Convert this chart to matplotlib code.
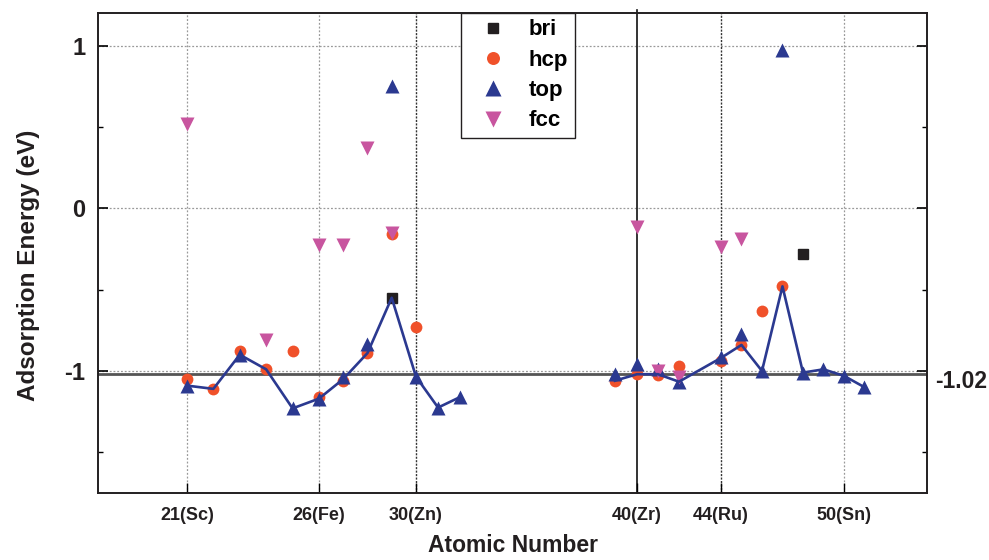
import numpy as np
import matplotlib
matplotlib.use("Agg")
import matplotlib.pyplot as plt
import matplotlib.transforms as mtransforms

plt.rcParams['font.family'] = ['Liberation Sans', 'DejaVu Sans']
plt.rcParams['font.weight'] = 'bold'

nan = np.nan
# Atomic numbers of the elements in the chart
Z = [21, 22, 23, 24, 25, 26, 27, 28, 29, 30, 31, 32,
     39, 40, 41, 42, 43, 44, 45, 46, 47, 48, 49, 50, 51]

bri = [nan, nan, nan, nan, nan, nan, nan, nan, -0.55, nan, nan, nan,
       nan, nan, nan, nan, nan, nan, nan, nan, nan, -0.28, nan, nan, nan]
hcp = [-1.05, -1.11, -0.875, -0.99, -0.875, -1.16, -1.06, -0.89, -0.16, -0.73, nan, nan,
       -1.06, -1.02, -1.025, -0.967, nan, -0.94, -0.84, -0.63, -0.48, nan, nan, nan, nan]
top = [-1.09, nan, -0.90, nan, -1.23, -1.17, -1.04, -0.835, 0.75, -1.035, -1.225, -1.16,
       -1.02, -0.957, -0.99, -1.066, nan, -0.916, -0.77, -1.00, 0.973, -1.01, -0.99, -1.03, -1.10]
fcc = [0.52, nan, nan, -0.81, nan, -0.226, -0.226, 0.37, -0.155, nan, nan, nan,
       nan, -0.113, -1.00, -1.04, nan, -0.236, -0.19, nan, nan, nan, nan, nan, nan]
# most stable site (connected line)
stable = [-1.09, -1.11, -0.90, -0.99, -1.23, -1.17, -1.05, -0.89, -0.55, -1.035, -1.225, -1.16,
          -1.06, -1.02, -1.02, -1.066, nan, -0.92, -0.84, -1.00, -0.48, -1.01, -0.99, -1.03, -1.10]

ref_energy = -1.02
tick_z = [21, 26, 30, 40, 44, 50]
tick_labels = ['21(Sc)', '26(Fe)', '30(Zn)', '40(Zr)', '44(Ru)', '50(Sn)']

# non-uniform horizontal axis of the original: piecewise-linear scale
scale_z = np.array([21, 26, 30, 40, 44, 50], float)
scale_u = np.array([0, 132, 229, 450, 534, 657], float)


def _pw(x, xp, fp):
    x = np.asarray(x, float)
    y = np.interp(x, xp, fp)
    s0 = (fp[1] - fp[0]) / (xp[1] - xp[0])
    s1 = (fp[-1] - fp[-2]) / (xp[-1] - xp[-2])
    y = np.where(x < xp[0], fp[0] + (x - xp[0]) * s0, y)
    y = np.where(x > xp[-1], fp[-1] + (x - xp[-1]) * s1, y)
    return y


def fwd(x):
    return _pw(x, scale_z, scale_u)


def inv(u):
    return _pw(u, scale_u, scale_z)


C_BRI = '#231f20'
C_HCP = '#f0512a'
C_TOP = '#2b3990'
C_FCC = '#c8559f'

fig = plt.figure(figsize=(9.89, 5.6), dpi=100)
ax = fig.add_axes([98 / 989, 1 - 493 / 560, (927 - 98) / 989, (493 - 13) / 560])
ax.set_xscale('function', functions=(fwd, inv))
ax.set_xlim(17.63, 54.05)
ax.set_ylim(-1.75, 1.2)

# grid & reference lines
for y in [-1, 0, 1]:
    ax.axhline(y, color='#999999', lw=0.9, ls=(0, (1.5, 1.5)), zorder=0.5)
for x in [21, 26, 50]:
    ax.axvline(x, color='#999999', lw=0.9, ls=(0, (1.5, 1.5)), zorder=0.5)
for x in [30, 44]:
    ax.axvline(x, color='#333333', lw=1.0, ls=(0, (1.5, 1.0)), zorder=0.5)
ax.axvline(40, color='#111111', lw=1.2, zorder=0.6, ymax=1.007, clip_on=False)
ax.axhline(ref_energy, color='#555555', lw=2.0, zorder=0.7)

Za = np.array(Z, float)
st = np.array(stable, float)
for grp in [(Za <= 32), (Za >= 39)]:
    m = grp & ~np.isnan(st)
    ax.plot(Za[m], st[m], color=C_TOP, lw=1.9, zorder=6)

ax.plot(Z, bri, ls='none', marker='s', ms=7, color=C_BRI, label='bri', zorder=3)
ax.plot(Z, hcp, ls='none', marker='o', ms=8.5, color=C_HCP, mec='none', label='hcp', zorder=3.5)
ax.plot(Z, top, ls='none', marker='^', ms=10.5, color=C_TOP, mec='none', label='top', zorder=4)
ax.plot(Z, fcc, ls='none', marker='v', ms=10.5, color=C_FCC, mec='none', label='fcc', zorder=4.5)

ax.set_xticks(tick_z)
ax.set_xticklabels(tick_labels)
ax.xaxis.set_minor_locator(matplotlib.ticker.NullLocator())
ax.set_yticks([-1, 0, 1])
ax.set_yticklabels(['-1', '0', '1'])
ax.set_yticks([-1.5, -0.5, 0.5], minor=True)

ax.tick_params(axis='y', which='major', direction='in', length=7.5, width=1.2,
               left=True, right=True, labelsize=17, pad=9, labelcolor='#231f20')
ax.tick_params(axis='y', which='minor', direction='in', length=3.8, width=1.0,
               left=True, right=True)
ax.tick_params(axis='x', which='major', direction='in', length=7.5, width=1.0,
               labelsize=13, pad=10, labelcolor='#231f20', top=False)
for sp in ax.spines.values():
    sp.set_linewidth(1.4)
    sp.set_color('#231f20')

ax.set_xlabel('Atomic Number', fontsize=16.5, fontweight='bold', labelpad=7, color='#231f20')
ax.set_ylabel('Adsorption Energy (eV)', fontsize=17.5, fontweight='bold', color='#231f20')
ax.yaxis.set_label_coords(-0.07, 0.475)

trans = mtransforms.blended_transform_factory(ax.transAxes, ax.transData)
ax.annotate('-1.02', xy=(1.0, ref_energy), xycoords=trans, xytext=(6, -5),
            textcoords='offset points', ha='left', va='center',
            fontsize=16.5, fontweight='bold', color='#231f20', annotation_clip=False)

leg = ax.legend(loc='upper left', bbox_to_anchor=(460.7 / 989, 1 - 12.7 / 560),
                bbox_transform=fig.transFigure, borderaxespad=0, fontsize=16,
                borderpad=0.3, handlelength=2.3, handletextpad=0.45,
                labelspacing=0.42, frameon=True, fancybox=False, framealpha=1,
                edgecolor='#231f20', numpoints=1, markerscale=1.1)
leg.get_frame().set_linewidth(1.0)
leg.set_zorder(10)

fig.savefig('out.png', dpi=100)
